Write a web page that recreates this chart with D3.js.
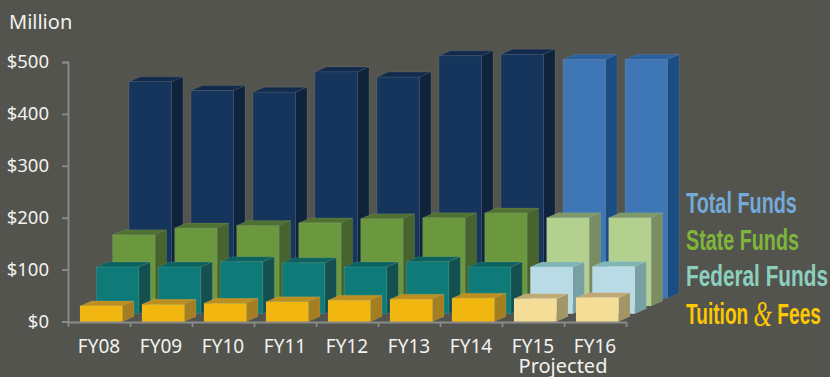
<!DOCTYPE html>
<html>
<head>
    <title>Funds by fiscal year</title>
    <script src="https://d3js.org/d3.v7.min.js"></script>
    <style>
        html, body { margin: 0; padding: 0; background: #53544e; }
        svg { display: block; }
        text { font-family: "Noto Sans", sans-serif; fill: #f2f2ee; }
        .axis path, .axis line { stroke: #8b8b88; stroke-width: 1.8; }
        .row polygon, .row rect { stroke: rgba(255,255,255,0.14); stroke-width: 0.6; }
        .legend text { font-family: "Liberation Sans Narrow", "Liberation Sans", sans-serif; font-weight: bold; }
    </style>
</head>
<body>
    <div id="chart"></div>

    <script>
        const categories = ["FY08", "FY09", "FY10", "FY11", "FY12", "FY13", "FY14", "FY15", "FY16"];
        const projected = ["FY15", "FY16"];
        const yTicks = [0, 100, 200, 300, 400, 500];

        const totalFunds = [417, 400, 397, 436, 426, 467, 470, 460, 460];
        const stateFunds = [137, 150, 155, 160, 168, 170, 179, 170, 170];
        const federalFunds = [90, 90, 100, 98, 90, 100, 90, 90, 91];
        const tuitionFees = [30, 33, 35, 38, 41, 43, 45, 44, 46];

        // back row first so the front rows paint over it
        const seriesNames = ["Total Funds", "State Funds", "Federal Funds", "Tuition & Fees"];
        const seriesValues = [totalFunds, stateFunds, federalFunds, tuitionFees];

        const faceColors = {
            "Total Funds": { front: "#16355c", side: "#10233d", top: "#122a4c", pFront: "#3e76b6", pSide: "#1a4d82", pTop: "#2c62a2" },
            "State Funds": { front: "#6b983e", side: "#47642e", top: "#4f7233", pFront: "#b3d08f", pSide: "#7a8c62", pTop: "#7f9868" },
            "Federal Funds": { front: "#0f7b78", side: "#14504f", top: "#0c625f", pFront: "#b8dbe6", pSide: "#76a0a3", pTop: "#80b5b5" },
            "Tuition & Fees": { front: "#f2b611", side: "#a67e22", top: "#bd8e20", pFront: "#f4dd96", pSide: "#a39666", pTop: "#bfa974" }
        };
        const legendColors = ["#74a9d8", "#7db63a", "#8ccfbf", "#fdc800"];

        const width = 830, height = 377;
        const barWidth = 42.5, barInset = 12;
        const sideX = 11.5, sideY = 5;

        const svg = d3.select("#chart").append("svg")
            .attr("width", width)
            .attr("height", height);

        const x = d3.scaleBand().domain(categories).range([68, 626]);
        const y = d3.scaleLinear().domain([0, 500]).range([321.5, 62]);

        // shift of each row into the depth of the chart
        const depthX = d3.scalePoint().domain(seriesNames).range([49, 0]);
        const depthY = d3.scalePoint().domain(seriesNames).range([23.3, 0]);

        svg.append("g")
            .attr("class", "axis")
            .attr("transform", "translate(68,0)")
            .call(d3.axisLeft(y).tickValues(yTicks).tickSize(6).tickFormat(d => "$" + d))
            .call(g => g.selectAll("text").attr("x", -19).style("font-size", "18.5px"));

        // bottom ticks sit on the band edges, so they get their own scale
        const edges = d3.scaleLinear().domain([0, categories.length]).range([68, 626]);
        svg.append("g")
            .attr("class", "axis")
            .attr("transform", "translate(0,322)")
            .call(d3.axisBottom(edges).tickValues(d3.range(categories.length + 1)).tickSize(5).tickSizeOuter(0).tickFormat(""));

        svg.append("g").selectAll("text")
            .data(categories)
            .enter().append("text")
            .attr("x", d => x(d) + x.bandwidth() / 2)
            .attr("y", 353)
            .attr("text-anchor", "middle")
            .style("font-size", "19px")
            .text(d => d);

        seriesNames.forEach((name, s) => {
            const colors = faceColors[name];
            const dx = depthX(name), dy = depthY(name);
            const row = svg.append("g").attr("class", "row");

            categories.forEach((cat, i) => {
                const isProjected = projected.includes(cat);
                const x0 = x(cat) + barInset + dx;
                const x1 = x0 + barWidth;
                const y0 = y(seriesValues[s][i]) - dy;
                const y1 = y(0) - dy;

                row.append("polygon")
                    .attr("points", [[x0, y0], [x0 + sideX, y0 - sideY], [x1 + sideX, y0 - sideY], [x1, y0]].join(" "))
                    .attr("fill", isProjected ? colors.pTop : colors.top);
                row.append("polygon")
                    .attr("points", [[x1, y0], [x1 + sideX, y0 - sideY], [x1 + sideX, y1 - sideY], [x1, y1]].join(" "))
                    .attr("fill", isProjected ? colors.pSide : colors.side);
                row.append("rect")
                    .attr("x", x0)
                    .attr("y", y0)
                    .attr("width", barWidth)
                    .attr("height", y1 - y0)
                    .attr("fill", isProjected ? colors.pFront : colors.front);
            });
        });

        svg.append("text")
            .attr("x", 9)
            .attr("y", 29)
            .style("font-size", "20px")
            .text("Million");

        svg.append("text")
            .attr("x", 563)
            .attr("y", 373)
            .attr("text-anchor", "middle")
            .style("font-size", "20px")
            .text("Projected");

        const legendY = [213, 250, 286, 324];
        const legendLen = [111, 113, 142, 135];
        const legend = svg.append("g").attr("class", "legend");
        seriesNames.forEach((name, s) => {
            const label = legend.append("text")
                .style("font-size", "29px")
                .style("fill", legendColors[s]);
            if (name.includes("&")) {
                const parts = name.split("&");
                label.append("tspan").text(parts[0]);
                label.append("tspan")
                    .attr("dy", 2)
                    .style("font-family", "'Liberation Serif', serif")
                    .style("font-style", "italic")
                    .style("font-weight", "normal")
                    .style("font-size", "36px")
                    .text("&");
                label.append("tspan").attr("dy", -2).text(parts[1]);
            } else {
                label.text(name);
            }
            // squeeze each label to the width it has in the picture
            const sx = legendLen[s] / label.node().getComputedTextLength();
            label.attr("transform", "translate(686," + legendY[s] + ") scale(" + sx + ",1)");
        });
    </script>
</body>
</html>
